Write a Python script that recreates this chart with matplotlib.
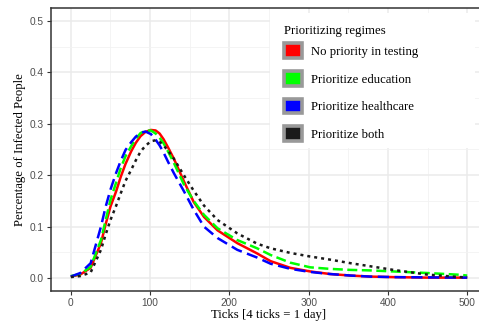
import numpy as np
import matplotlib.pyplot as plt
from matplotlib.patches import Patch, Rectangle
from matplotlib.ticker import MultipleLocator

# values
ticks = [0, 12, 25, 38, 44, 50, 57, 63, 69, 76, 82, 88, 94, 101, 107, 112, 117, 123, 130,
         143, 155, 168, 185, 210, 235, 252, 277, 302, 327, 353, 378, 407, 449, 491, 500]

no_priority = [0.003, 0.007, 0.020, 0.068, 0.105, 0.139, 0.168, 0.197, 0.222, 0.246,
               0.263, 0.276, 0.284, 0.288, 0.287, 0.281, 0.270, 0.253, 0.232, 0.187,
               0.148, 0.119, 0.093, 0.068, 0.048, 0.033, 0.020, 0.013, 0.008, 0.005,
               0.003, 0.002, 0.001, 0.001, 0.001]
education = [0.004, 0.008, 0.022, 0.074, 0.113, 0.152, 0.185, 0.214, 0.237, 0.256,
             0.271, 0.282, 0.286, 0.287, 0.281, 0.273, 0.262, 0.245, 0.224, 0.181,
             0.150, 0.123, 0.097, 0.074, 0.058, 0.045, 0.030, 0.021, 0.018, 0.016,
             0.015, 0.013, 0.010, 0.0065, 0.005]
healthcare = [0.003, 0.010, 0.029, 0.100, 0.139, 0.172, 0.204, 0.228, 0.249, 0.264,
              0.275, 0.282, 0.285, 0.280, 0.269, 0.258, 0.244, 0.225, 0.204, 0.168,
              0.133, 0.100, 0.078, 0.055, 0.040, 0.028, 0.018, 0.012, 0.008, 0.005,
              0.003, 0.002, 0.0015, 0.001, 0.001]
both = [0.002, 0.004, 0.011, 0.055, 0.085, 0.113, 0.140, 0.165, 0.189, 0.210,
        0.229, 0.246, 0.257, 0.266, 0.268, 0.265, 0.258, 0.247, 0.232, 0.199,
        0.170, 0.141, 0.113, 0.087, 0.067, 0.058, 0.049, 0.042, 0.036, 0.029,
        0.023, 0.016, 0.007, 0.002, 0.002]

labels = ["No priority in testing", "Prioritize education",
          "Prioritize healthcare", "Prioritize both"]
colors = ["#FF0000", "#00FF00", "#0000FF", "#1A1A1A"]
dashes = [None, (4, 1.8), (4.5, 2.2), (1.2, 1.6)]

serif = ["Liberation Serif", "DejaVu Serif"]
sans = ["Liberation Sans", "DejaVu Sans"]

fig = plt.figure(figsize=(4.79, 3.24), dpi=100)
ax = fig.add_axes([51 / 479, 1 - 291 / 324, (487 - 51) / 479, (291 - 8) / 324])

series = [no_priority, education, healthcare, both]
for i, (ys, c, d) in enumerate(zip(series, colors, dashes)):
    line, = ax.plot(ticks, ys, color=c, lw=1.8, zorder=3 + i,
                    solid_capstyle="butt", dash_capstyle="butt")
    if d is not None:
        line.set_dashes(d)

ax.set_xlim(-25, 525)
ax.set_ylim(-0.025, 0.525)
ax.xaxis.set_major_locator(MultipleLocator(100))
ax.xaxis.set_minor_locator(MultipleLocator(50))
ax.yaxis.set_major_locator(MultipleLocator(0.1))
ax.yaxis.set_minor_locator(MultipleLocator(0.05))
ax.yaxis.set_major_formatter(plt.FuncFormatter(lambda v, p: f"{v:.1f}"))

ax.grid(which="major", color="#EBEBEB", lw=1.1)
ax.grid(which="minor", color="#F2F2F2", lw=0.6)
ax.set_axisbelow(True)
for s in ax.spines.values():
    s.set_color("#333333")
    s.set_linewidth(1.1)

ax.tick_params(which="major", length=3, width=0.8, color="#333333",
               labelsize=7.3, labelcolor="#4D4D4D", pad=2)
ax.tick_params(which="minor", length=0)
for lab in ax.get_xticklabels() + ax.get_yticklabels():
    lab.set_family(sans)

ax.set_xlabel("Ticks [4 ticks = 1 day]", family=serif, fontsize=9.2, labelpad=1)
ax.set_ylabel("Percentage of Infected People", family=serif, fontsize=9.2, labelpad=3)

# white legend background, wider than the legend content
ax.add_patch(Rectangle((270 / 479, 1 - 148 / 324), 205 / 479, 135 / 324,
                       transform=fig.transFigure, facecolor="white",
                       edgecolor="none", zorder=2))

handles = [Patch(facecolor=c, edgecolor="#999999", lw=2.6) for c in colors]
leg = ax.legend(handles, labels, title="Prioritizing regimes",
                loc="upper left", bbox_to_anchor=(275 / 479, 1 - 16 / 324),
                bbox_transform=fig.transFigure,
                prop={"family": serif, "size": 9.2},
                title_fontproperties={"family": serif, "size": 9.2},
                frameon=False, handlelength=1.38, handleheight=1.38,
                labelspacing=1.02, handletextpad=0.72, borderpad=0.2,
                alignment="left")
leg._legend_box.sep = 4.6
leg.set_zorder(10)

fig.savefig("out.png", dpi=100)
